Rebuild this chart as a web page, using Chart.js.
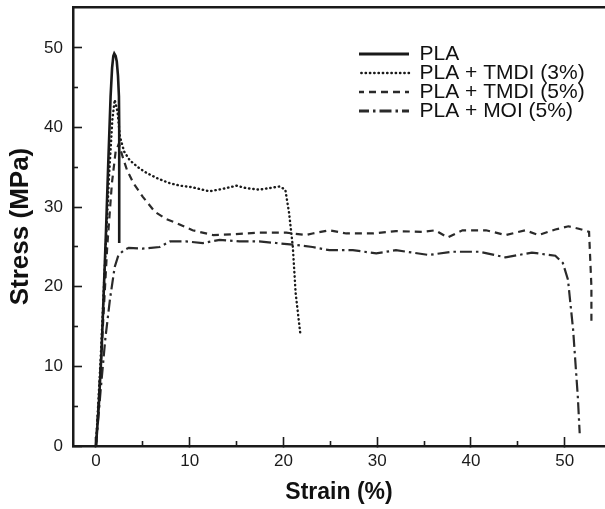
<!DOCTYPE html>
<html>
<head>
<meta charset="utf-8">
<script src="https://cdn.jsdelivr.net/npm/chart.js@4/dist/chart.umd.min.js"></script>
<style>
  html, body { margin: 0; padding: 0; background: #fff; }
  #stressChart { display: block; }
</style>
</head>
<body>
<canvas id="stressChart" width="605" height="509"></canvas>
<script>
// series labels
const seriesNames = ["PLA", "PLA + TMDI (3%)", "PLA + TMDI (5%)", "PLA + MOI (5%)"];

// strain (%) / stress (MPa)
const plaStrain = [0, 0.3, 0.6, 0.85, 1.07, 1.31, 1.56, 1.72, 1.85, 1.95, 2.1, 2.22, 2.35, 2.45, 2.48, 2.48];
const plaStress = [0, 5, 12, 20, 27, 35.5, 43.9, 47.5, 49, 49.3, 49, 48.3, 46.5, 43.9, 40, 25.5];

const tmdi3Strain = [0, 0.5, 1.0, 1.4, 1.75, 2.0, 2.3, 2.55, 3.0, 3.6, 4.5, 5.4, 6.6, 7.9, 9, 10.3, 11, 12.1, 13.5, 15, 16, 17.4, 18.5, 19.6, 20.2, 20.6, 21, 21.3, 21.8];
const tmdi3Stress = [0, 11, 24, 34, 41, 43.5, 42, 38.9, 37, 35.9, 35, 34.3, 33.6, 33, 32.7, 32.5, 32.3, 32.0, 32.3, 32.7, 32.4, 32.2, 32.4, 32.6, 32.2, 29.3, 25, 19.2, 14.1];

const tmdi5Strain = [0, 0.6, 1.2, 1.7, 2.1, 2.45, 2.8, 3.3, 4, 5, 6.3, 7.5, 8.6, 10.3, 12.5, 14.6, 17.4, 20.3, 22.4, 23.1, 24.9, 26.7, 29.5, 32, 34.8, 36.2, 37.5, 39.1, 41.6, 43.7, 45.8, 47.2, 49, 50.4, 51.5, 52.6, 52.85, 52.85];
const tmdi5Stress = [0, 12, 25, 33, 37, 38, 36.5, 34.7, 33, 31.3, 29.4, 28.5, 28, 27.1, 26.5, 26.6, 26.8, 26.8, 26.5, 26.7, 27.1, 26.7, 26.7, 27, 26.9, 27.1, 26.2, 27.1, 27.1, 26.5, 27.1, 26.5, 27.2, 27.6, 27.3, 26.9, 20, 15.2];

const moiStrain = [0, 0.5, 1.0, 1.5, 2.0, 2.4, 3.0, 3.5, 5, 6.8, 7.9, 9.6, 11.4, 13.2, 15.3, 17.4, 19.2, 21, 23.1, 24.9, 27.4, 29.9, 32, 35.5, 38, 40.9, 43.7, 46.5, 49, 49.8, 50.35, 50.9, 51.4, 51.6];
const moiStress = [0, 7, 13.5, 18.5, 22.5, 24, 24.6, 24.9, 24.8, 25.0, 25.7, 25.7, 25.5, 25.9, 25.7, 25.7, 25.5, 25.3, 25.0, 24.6, 24.6, 24.2, 24.6, 24.0, 24.4, 24.4, 23.7, 24.3, 23.9, 23.0, 20.9, 14.6, 6.2, 1.6];

// axis ranges and tick steps
const strainRange = [-2.45, 54.3];
const stressRange = [0, 55.15];
const majorStep = 10;
const minorStep = 5;

function toPoints(xs, ys) {
    return xs.map((x, i) => ({ x: x, y: ys[i] }));
}

Chart.defaults.font.family = "'Liberation Sans', Arial, sans-serif";
Chart.defaults.color = "#1a1a1a";

const ink = "#1a1a1a";

// put the legend inside the plot, upper right
const legendSpot = {
    id: "legendSpot",
    afterLayout(chart) {
        chart.legend.left = 359;
        chart.legend.top = 45.5;
    }
};

const majorOnly = axis => {
    axis.ticks = axis.ticks.filter(t => Math.abs(t.value % majorStep) < 1e-6 && t.value >= 0 && t.value <= 50);
};
const minorOnly = axis => {
    axis.ticks = axis.ticks.filter(t => Math.abs(t.value % majorStep - minorStep) < 1e-6 && t.value <= 50);
};
// no extra room for the end labels, the plot box is fixed
const noPad = (s, size) => {
    if (s.isHorizontal()) s.height = size; else s.width = size;
    s.paddingTop = 0;
    s.paddingBottom = 0;
    s.paddingLeft = 0;
    s.paddingRight = 0;
};

// legend samples take the dataset's own line style
function legendLabels(chart) {
    const items = Chart.defaults.plugins.legend.labels.generateLabels(chart);
    items.forEach(item => {
        const ds = chart.data.datasets[item.datasetIndex];
        item.lineDash = ds.borderDash || [];
        item.lineWidth = ds.legendWidth || ds.borderWidth;
        item.lineCap = ds.borderCapStyle || "butt";
        item.strokeStyle = ds.borderColor;
    });
    return items;
}

const ctx = document.getElementById("stressChart").getContext("2d");
new Chart(ctx, {
    type: "scatter",
    data: {
        datasets: [
            {
                label: seriesNames[0],
                data: toPoints(plaStrain, plaStress),
                borderColor: ink,
                borderWidth: 2.6,
                legendWidth: 3.2
            },
            {
                label: seriesNames[1],
                data: toPoints(tmdi3Strain, tmdi3Stress),
                borderColor: ink,
                borderWidth: 2.4,
                borderCapStyle: "round",
                borderDash: [0.4, 3.9]
            },
            {
                label: seriesNames[2],
                data: toPoints(tmdi5Strain, tmdi5Stress),
                borderColor: "#2a2a2a",
                borderWidth: 2.2,
                borderDash: [7, 5],
                legendWidth: 2.6
            },
            {
                label: seriesNames[3],
                data: toPoints(moiStrain, moiStress),
                borderColor: "#2a2a2a",
                borderWidth: 2.2,
                borderDash: [12, 4, 2.5, 4],
                legendWidth: 2.8
            }
        ]
    },
    options: {
        responsive: false,
        animation: false,
        devicePixelRatio: 1,
        showLine: true,
        layout: { padding: 0 },
        elements: {
            point: { radius: 0, hoverRadius: 0 },
            line: { tension: 0, fill: false }
        },
        plugins: {
            tooltip: { enabled: false },
            legend: {
                position: "chartArea",
                align: "start",
                labels: {
                    usePointStyle: true,
                    pointStyle: "line",
                    pointStyleWidth: 52,
                    padding: -2,
                    color: "#111",
                    font: { size: 21 },
                    generateLabels: legendLabels
                }
            }
        },
        scales: {
            x: {
                type: "linear",
                position: "bottom",
                weight: 1,
                min: strainRange[0],
                max: strainRange[1],
                afterBuildTicks: majorOnly,
                afterFit: s => noPad(s, 63),
                ticks: { stepSize: majorStep, includeBounds: false, autoSkip: false, maxRotation: 0, padding: 14, color: "#1a1a1a", font: { size: 17 } },
                grid: { drawOnChartArea: false, drawTicks: true, tickLength: -9, tickColor: ink, tickWidth: 1.6 },
                border: { display: true, color: ink, width: 2.5 },
                title: { display: true, text: "Strain (%)", color: "#111", font: { size: 23, weight: "bold" }, padding: { top: 0, bottom: 3 } }
            },
            xMinor: {
                type: "linear",
                position: "bottom",
                weight: 0,
                min: strainRange[0],
                max: strainRange[1],
                afterBuildTicks: minorOnly,
                afterFit: s => noPad(s, 0),
                ticks: { display: false, stepSize: minorStep, includeBounds: false, autoSkip: false },
                grid: { drawOnChartArea: false, drawTicks: true, tickLength: -5, tickColor: ink, tickWidth: 1.6 },
                border: { display: false }
            },
            xTop: {
                type: "linear",
                position: "top",
                min: strainRange[0],
                max: strainRange[1],
                afterFit: s => noPad(s, 7),
                ticks: { display: false },
                grid: { display: false },
                border: { display: true, color: ink, width: 2.5 }
            },
            y: {
                type: "linear",
                position: "left",
                weight: 1,
                min: stressRange[0],
                max: stressRange[1],
                afterBuildTicks: majorOnly,
                afterFit: s => noPad(s, 73),
                ticks: { stepSize: majorStep, includeBounds: false, autoSkip: false, padding: 19, color: "#1a1a1a", font: { size: 17 } },
                grid: { drawOnChartArea: false, drawTicks: true, tickLength: -9, tickColor: ink, tickWidth: 1.6 },
                border: { display: true, color: ink, width: 2.5 },
                title: { display: true, text: "Stress (MPa)", color: "#111", font: { size: 26, weight: "bold" }, padding: { top: 5, bottom: 0 } }
            },
            yMinor: {
                type: "linear",
                position: "left",
                weight: 0,
                min: stressRange[0],
                max: stressRange[1],
                afterBuildTicks: minorOnly,
                afterFit: s => noPad(s, 0),
                ticks: { display: false, stepSize: minorStep, includeBounds: false, autoSkip: false },
                grid: { drawOnChartArea: false, drawTicks: true, tickLength: -5, tickColor: ink, tickWidth: 1.6 },
                border: { display: false }
            }
        }
    },
    plugins: [legendSpot]
});
</script>
</body>
</html>
